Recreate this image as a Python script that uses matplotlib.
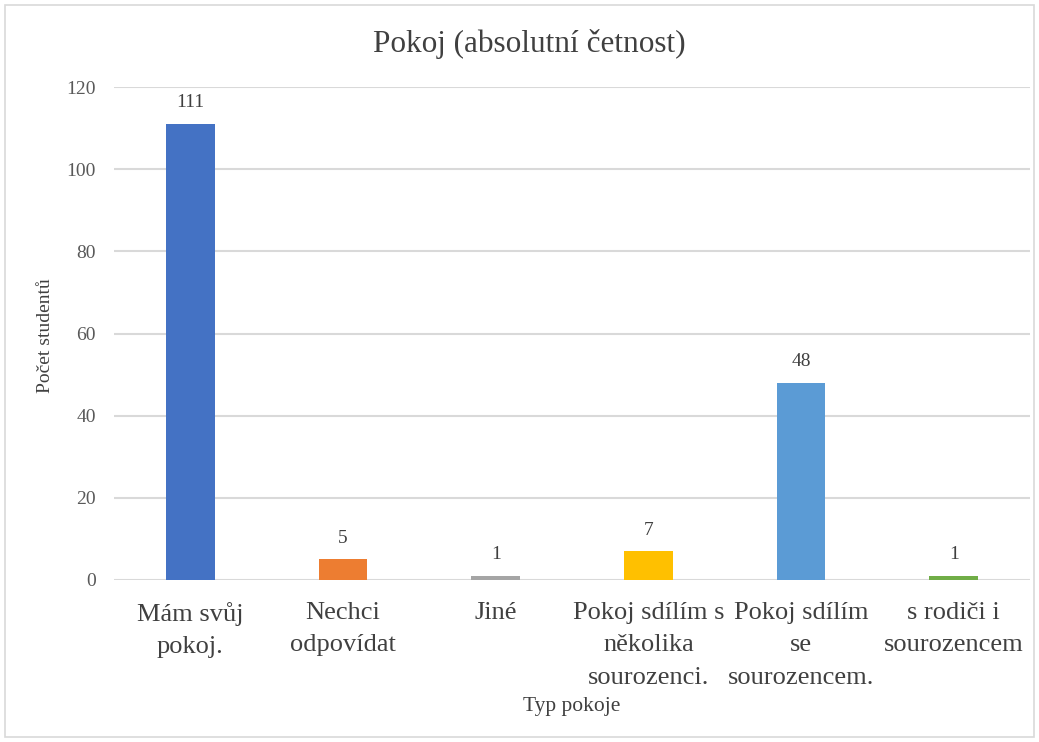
import matplotlib
matplotlib.use("Agg")
import matplotlib.pyplot as plt
from matplotlib.patches import Rectangle

categories = ["Mám svůj\npokoj.", "Nechci\nodpovídat", "Jiné",
              "Pokoj sdílím s\nněkolika\nsourozenci.", "Pokoj sdílím\nse\nsourozencem.",
              "s rodiči i\nsourozencem"]
values = [111, 5, 1, 7, 48, 1]
colors = ["#4472C4", "#ED7D31", "#A5A5A5", "#FFC000", "#5B9BD5", "#70AD47"]
yticks = [0, 20, 40, 60, 80, 100, 120]

plt.rcParams['font.family'] = ['Liberation Serif', 'DejaVu Serif']

fig = plt.figure(figsize=(10.39, 7.42), dpi=100)
ax = fig.add_axes([114/1039, 1-580/742, (1030-114)/1039, (580-87)/742])

x = list(range(len(categories)))
ax.bar(x, values, width=0.32, color=colors, zorder=3)
for xi, v in zip(x, values):
    ax.annotate(str(v), (xi, v), xytext=(0, 9), textcoords='offset points',
                ha='center', va='bottom', fontsize=14, color='#404040')

ax.set_xlim(-0.5, len(categories) - 0.5)
ax.set_ylim(0, 120)
ax.set_yticks(yticks)
ax.set_yticklabels([str(t) for t in yticks], fontsize=14, color='#595959')
ax.set_xticks(x)
ax.set_xticklabels(categories, fontsize=19, color='#404040', linespacing=1.63, va='top')
ax.tick_params(axis='both', length=0)
ax.tick_params(axis='x', pad=15.5)
ax.tick_params(axis='y', pad=13)
ax.grid(axis='y', color='#D9D9D9', linewidth=1.5, zorder=0)
for s in ax.spines.values():
    s.set_visible(False)

fig.text(529/1039, 1 - 44/742, "Pokoj (absolutní četnost)",
         ha='center', va='center', fontsize=22.5, color='#404040')
fig.text(46/1039, 1 - 336/742, "Počet studentů", rotation=90, ha='center', va='center',
         fontsize=14, color='#404040')
fig.text(572/1039, 1 - 707/742, "Typ pokoje", ha='center', va='center',
         fontsize=15.5, color='#404040')

fig.patches.append(Rectangle((5/1039, 5/742), 1029/1039, 732/742, transform=fig.transFigure,
                             fill=False, edgecolor='#D9D9D9', linewidth=1.2))

fig.savefig("out.png", dpi=100)
